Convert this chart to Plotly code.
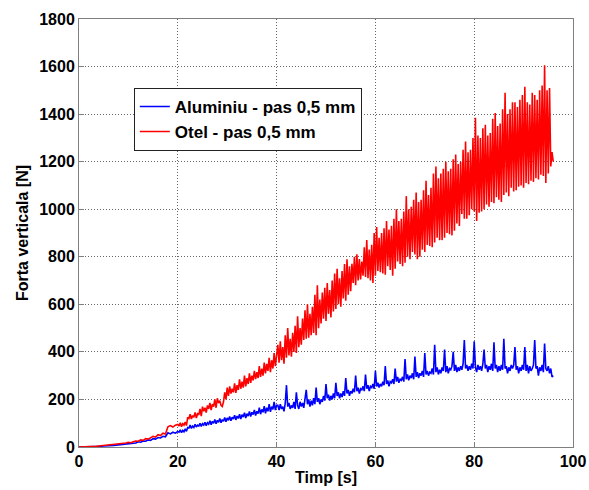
import plotly.graph_objects as go

timp_s = [
    0.0, 0.5, 1.0, 1.5, 2.0, 2.5, 3.0, 3.5, 4.0, 4.5, 5.0,
    5.5, 6.0, 6.5, 7.0, 7.5, 8.0, 8.5, 9.0, 9.5, 10.0,
    10.5, 11.0, 11.5, 12.0, 12.5, 13.0, 13.5, 14.0, 14.5, 15.0,
    15.5, 16.0, 16.5, 17.0, 17.5, 18.0, 18.5, 19.0, 19.5, 20.0,
    20.25, 20.5, 20.75, 21.0, 21.25, 21.5, 21.75, 22.0,
    22.25, 22.5, 22.75, 23.0, 23.25, 23.5, 23.75, 24.0,
    24.25, 24.5, 24.75, 25.0, 25.25, 25.5, 25.75, 26.0,
    26.25, 26.5, 26.75, 27.0, 27.25, 27.5, 27.75, 28.0,
    28.25, 28.5, 28.75, 29.0, 29.25, 29.5, 29.75, 30.0,
    30.25, 30.5, 30.75, 31.0, 31.25, 31.5, 31.75, 32.0,
    32.25, 32.5, 32.75, 33.0, 33.25, 33.5, 33.75, 34.0,
    34.25, 34.5, 34.75, 35.0, 35.25, 35.5, 35.75, 36.0,
    36.25, 36.5, 36.75, 37.0, 37.25, 37.5, 37.75, 38.0,
    38.25, 38.5, 38.75, 39.0, 39.25, 39.5, 39.75, 40.0,
    40.25, 40.5, 40.75, 41.0, 41.25, 41.5, 41.75, 42.0,
    42.25, 42.5, 42.75, 43.0, 43.25, 43.5, 43.75, 44.0,
    44.25, 44.5, 44.75, 45.0, 45.25, 45.5, 45.75, 46.0,
    46.25, 46.5, 46.75, 47.0, 47.25, 47.5, 47.75, 48.0,
    48.25, 48.5, 48.75, 49.0, 49.25, 49.5, 49.75, 50.0,
    50.25, 50.5, 50.75, 51.0, 51.25, 51.5, 51.75, 52.0,
    52.25, 52.5, 52.75, 53.0, 53.25, 53.5, 53.75, 54.0,
    54.25, 54.5, 54.75, 55.0, 55.25, 55.5, 55.75, 56.0,
    56.25, 56.5, 56.75, 57.0, 57.25, 57.5, 57.75, 58.0,
    58.25, 58.5, 58.75, 59.0, 59.25, 59.5, 59.75, 60.0,
    60.25, 60.5, 60.75, 61.0, 61.25, 61.5, 61.75, 62.0,
    62.25, 62.5, 62.75, 63.0, 63.25, 63.5, 63.75, 64.0,
    64.25, 64.5, 64.75, 65.0, 65.25, 65.5, 65.75, 66.0,
    66.25, 66.5, 66.75, 67.0, 67.25, 67.5, 67.75, 68.0,
    68.25, 68.5, 68.75, 69.0, 69.25, 69.5, 69.75, 70.0,
    70.25, 70.5, 70.75, 71.0, 71.25, 71.5, 71.75, 72.0,
    72.25, 72.5, 72.75, 73.0, 73.25, 73.5, 73.75, 74.0,
    74.25, 74.5, 74.75, 75.0, 75.25, 75.5, 75.75, 76.0,
    76.25, 76.5, 76.75, 77.0, 77.25, 77.5, 77.75, 78.0,
    78.25, 78.5, 78.75, 79.0, 79.25, 79.5, 79.75, 80.0,
    80.25, 80.5, 80.75, 81.0, 81.25, 81.5, 81.75, 82.0,
    82.25, 82.5, 82.75, 83.0, 83.25, 83.5, 83.75, 84.0,
    84.25, 84.5, 84.75, 85.0, 85.25, 85.5, 85.75, 86.0,
    86.25, 86.5, 86.75, 87.0, 87.25, 87.5, 87.75, 88.0,
    88.25, 88.5, 88.75, 89.0, 89.25, 89.5, 89.75, 90.0,
    90.25, 90.5, 90.75, 91.0, 91.25, 91.5, 91.75, 92.0,
    92.25, 92.5, 92.75, 93.0, 93.25, 93.5, 93.75, 94.0,
    94.25, 94.5, 94.75, 95.0, 95.25, 95.5, 95.75, 96.0,
]

forta_aluminiu = [
    0, 0, 0, 1, 1, 1, 2, 2, 3, 3, 4,
    4, 5, 6, 7, 8, 9, 10, 12, 13, 15,
    14, 18, 17, 22, 20, 25, 24, 30, 28, 35,
    33, 40, 38, 45, 43, 60, 55, 62, 58, 65,
    62, 72, 60, 70, 64, 76, 66, 82,
    80, 92, 78, 88, 82, 95, 84, 92,
    88, 100, 86, 98, 92, 104, 90, 102,
    96, 110, 94, 108, 100, 116, 98, 112,
    104, 120, 102, 115, 108, 124, 106, 122,
    112, 128, 110, 125, 118, 134, 114, 130,
    120, 138, 118, 136, 126, 144, 122, 140,
    130, 150, 128, 146, 136, 156, 132, 150,
    140, 165, 138, 158, 146, 172, 142, 165,
    150, 180, 148, 170, 158, 190, 155, 175,
    175, 155, 180, 160, 170, 150, 185, 260,
    170, 185, 160, 175, 165, 190, 160, 230,
    175, 160, 190, 170, 185, 165, 195, 240,
    180, 200, 170, 195, 175, 205, 180, 250,
    190, 205, 180, 200, 190, 215, 195, 265,
    205, 220, 195, 215, 200, 225, 205, 270,
    215, 230, 205, 225, 210, 235, 215, 290,
    225, 240, 215, 235, 225, 245, 230, 300,
    235, 250, 225, 245, 240, 255, 235, 305,
    245, 260, 235, 255, 250, 265, 245, 320,
    255, 270, 250, 265, 255, 275, 260, 340,
    265, 280, 255, 275, 270, 285, 265, 330,
    275, 295, 270, 285, 280, 295, 275, 370,
    285, 305, 280, 300, 290, 310, 285, 380,
    295, 315, 290, 310, 300, 320, 295, 395,
    305, 320, 300, 315, 310, 330, 305, 430,
    315, 335, 305, 325, 310, 335, 320, 410,
    315, 340, 310, 330, 325, 340, 400, 320,
    345, 315, 335, 320, 340, 325, 350, 450,
    330, 345, 320, 340, 325, 350, 330, 445,
    335, 315, 345, 325, 340, 320, 350, 410,
    330, 345, 315, 340, 325, 350, 320, 440,
    330, 345, 315, 340, 320, 345, 325, 455,
    330, 340, 310, 335, 320, 345, 330, 345,
    420, 325, 340, 310, 335, 320, 345, 325,
    420, 320, 345, 310, 340, 320, 330, 345,
    450, 330, 340, 300, 335, 320, 345, 315,
    435, 330, 320, 340, 310, 330, 295, 300,
]

forta_otel = [
    0, 0, 1, 1, 2, 2, 3, 3, 4, 5, 5,
    6, 7, 8, 9, 10, 12, 13, 15, 17, 20,
    18, 22, 25, 24, 30, 28, 35, 33, 40, 45,
    42, 52, 48, 58, 55, 85, 90, 84, 92, 95,
    88, 102, 85, 98, 92, 105, 90, 125,
    120, 138, 118, 132, 125, 145, 122, 140,
    135, 160, 130, 170, 150, 165, 145, 175,
    160, 185, 155, 180, 170, 200, 165, 205,
    185, 195, 175, 170, 190, 230, 200, 250,
    215, 255, 225, 245, 230, 268, 228, 260,
    240, 285, 245, 275, 250, 300, 255, 290,
    265, 310, 270, 300, 280, 320, 285, 315,
    290, 340, 295, 330, 300, 355, 310, 350,
    320, 375, 315, 365, 330, 395, 340, 400,
    430, 355, 445, 365, 420, 350, 470, 375,
    500, 385, 455, 380, 480, 400, 510, 395,
    550, 420, 500, 430, 540, 450, 575, 455,
    600, 460, 560, 470, 590, 480, 640, 470,
    680, 500, 620, 520, 650, 540, 670, 530,
    690, 560, 660, 545, 700, 570, 730, 580,
    750, 600, 710, 590, 740, 625, 770, 615,
    790, 640, 760, 655, 770, 690, 800, 680,
    810, 700, 790, 705, 780, 720, 840, 715,
    870, 710, 830, 700, 850, 690, 900, 720,
    925, 740, 880, 735, 900, 730, 920, 725,
    950, 760, 915, 745, 930, 720, 960, 750,
    1000, 780, 950, 770, 960, 760, 990, 775,
    1055, 800, 1000, 790, 1010, 820, 1040, 810,
    1070, 790, 1030, 800, 1040, 830, 1080, 820,
    1120, 850, 1060, 845, 1090, 840, 1150, 860,
    1180, 880, 1130, 870, 1150, 870, 1170, 880,
    1200, 900, 1160, 895, 1170, 890, 1210, 910,
    1230, 940, 1190, 930, 1200, 980, 1250, 960,
    1285, 960, 1240, 975, 1250, 1000, 1300, 990,
    1385, 950, 1310, 985, 1300, 990, 1340, 1000,
    1355, 1020, 1310, 1010, 1320, 1030, 1380, 1025,
    1405, 1050, 1350, 1040, 1360, 1030, 1420, 1060,
    1490, 1070, 1400, 1055, 1420, 1090, 1450, 1075,
    1450, 1080, 1430, 1095, 1460, 1100, 1480, 1090,
    1515, 1110, 1450, 1105, 1440, 1120, 1490, 1115,
    1480, 1130, 1460, 1125, 1500, 1145, 1520, 1140,
    1605, 1110, 1500, 1150, 1510, 1180, 1240, 1200,
]

x_ticks = [0, 20, 40, 60, 80, 100]
y_ticks = [0, 200, 400, 600, 800, 1000, 1200, 1400, 1600, 1800]

fig = go.Figure()
fig.add_trace(go.Scatter(x=timp_s, y=forta_aluminiu, mode="lines",
                         name="Aluminiu - pas 0,5 mm",
                         line=dict(color="#0000ff", width=1.6)))
fig.add_trace(go.Scatter(x=timp_s, y=forta_otel, mode="lines",
                         name="Otel - pas 0,5 mm",
                         line=dict(color="#ff0000", width=1.6)))

bold = dict(family="Liberation Sans, Arial, sans-serif", size=16, color="black", weight="bold")
legend_font = dict(family="Liberation Sans, Arial, sans-serif", size=17, color="black", weight="bold")

fig.update_layout(
    width=589, height=490,
    margin=dict(l=79, r=16, t=19, b=43),
    paper_bgcolor="white", plot_bgcolor="white",
    font=bold,
    showlegend=True,
    legend=dict(x=0.111, y=0.839, xanchor="left", yanchor="top",
                bgcolor="white", bordercolor="#222222", borderwidth=1,
                font=legend_font, itemwidth=30, tracegroupgap=0),
)

axis_common = dict(
    showgrid=True, gridcolor="#666666", griddash="1px,2px", gridwidth=1,
    showline=True, linecolor="#7f7f7f", linewidth=1, mirror=True,
    ticks="inside", ticklen=5, tickcolor="#7f7f7f",
    zeroline=False, tickfont=bold, automargin=False,
)
fig.update_xaxes(range=[0, 100], tickvals=x_ticks,
                 title=dict(text="Timp [s]", font=bold, standoff=2), **axis_common)
fig.update_yaxes(range=[0, 1800], tickvals=y_ticks,
                 title=dict(text="Forta verticala [N]", font=bold, standoff=6), **axis_common)

fig.write_html("out.html", config={"displayModeBar": False},
               post_script="document.body.style.margin='0px';")
